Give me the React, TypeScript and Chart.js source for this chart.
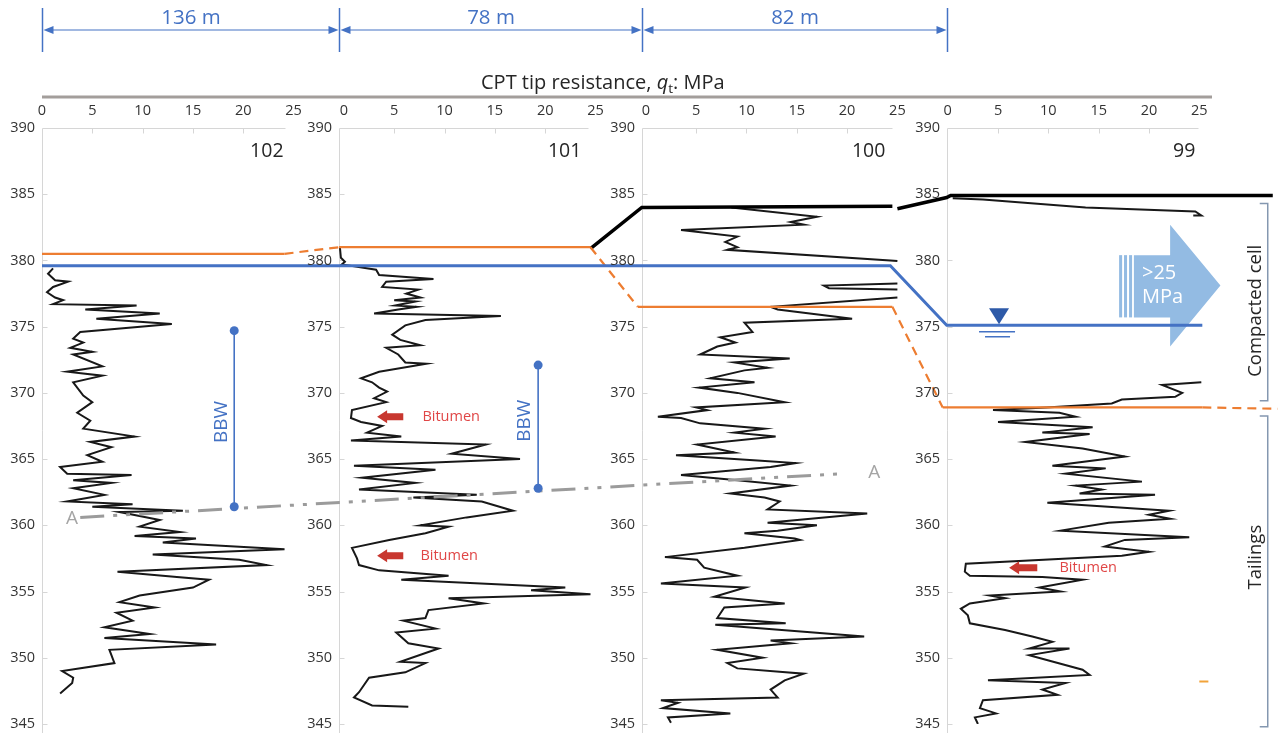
import { useEffect, useRef } from "react";
import { Chart, registerables } from "chart.js";

Chart.register(...registerables);

type Pt = [number, number]; // [q_t in MPa, elevation in m]

// ---- layout of the four CPT panels on one shared q_t axis ----
const PANEL_IDS = ["102", "101", "100", "99"];
const PANEL_OFFSET = [0, 30, 60, 90];
const FRAME_LEFT = [0, 29.5, 59.6, 89.9];
const FRAME_RIGHT = [24.1, 54.3, 84.5, 114.9];
const ID_LABEL_X = [24.0, 53.6, 83.8, 114.6];
const X_MAX = 122.77;
const QT_TICKS = [0, 5, 10, 15, 20, 25];
const ELEV_TICKS = [345, 350, 355, 360, 365, 370, 375, 380, 385, 390];
const SPACING_LABELS = ["136 m", "78 m", "82 m"];

// ---- CPT tip resistance profiles ----
const CPT_102: Pt[] = [
  [1.1, 379.4], [0.6, 379.0], [1.3, 378.5], [2.6, 378.4], [1.1, 378.0], [0.5, 377.6], [1.3, 377.2], [2.1, 377.0],
  [1.1, 376.7], [9.4, 376.6], [4.3, 376.3], [11.7, 376.0], [5.4, 375.6], [12.9, 375.2], [3.8, 374.6], [3.1, 374.1],
  [4.1, 373.8], [2.8, 373.4], [5.0, 373.1], [3.1, 372.9], [6.0, 372.0], [2.5, 371.6], [6.0, 371.3], [3.1, 370.8],
  [4.1, 369.8], [5.0, 369.3], [3.5, 368.5], [4.8, 367.9], [4.1, 367.3], [9.2, 366.7], [4.8, 366.3], [6.9, 365.9],
  [4.5, 365.3], [6.0, 364.8], [1.8, 364.4], [2.5, 363.9], [8.9, 363.8], [3.1, 363.4], [6.9, 363.2], [3.1, 362.8],
  [6.2, 362.3], [2.5, 361.8], [9.0, 361.6], [5.0, 361.4], [14.0, 361.1], [7.7, 361.0], [11.7, 360.4], [9.7, 359.9],
  [13.7, 359.5], [9.2, 359.2], [15.3, 359.0], [12.0, 358.7], [24.1, 358.2], [11.0, 357.8], [19.6, 357.4], [22.3, 357.0],
  [7.5, 356.5], [13.4, 356.1], [16.6, 355.9], [15.0, 355.3], [9.7, 354.7], [7.7, 354.2], [11.2, 353.8], [7.4, 353.4],
  [9.0, 352.8], [6.2, 352.3], [10.7, 351.8], [6.2, 351.5], [17.3, 351.0], [6.7, 350.6], [7.2, 349.6], [2.0, 349.0],
  [3.1, 348.5], [3.0, 348.1], [1.8, 347.3],
];

const CPT_101: Pt[] = [
  [-0.4, 381.0], [-0.3, 380.2], [0.1, 379.9], [-0.2, 379.7], [3.2, 379.3], [3.5, 378.9], [8.9, 378.6], [4.2, 378.4],
  [3.8, 378.0], [7.4, 377.8], [6.2, 377.5], [7.6, 377.2], [5.0, 377.0], [7.1, 376.9], [5.1, 376.6], [7.2, 376.5],
  [5.4, 376.3], [3.0, 376.0], [15.6, 375.8], [8.1, 375.5], [6.1, 375.1], [4.8, 374.4], [5.6, 374.0], [7.6, 373.6],
  [4.2, 373.4], [5.4, 372.9], [6.1, 372.3], [8.2, 372.2], [3.5, 371.6], [1.7, 371.1], [2.8, 370.8], [3.5, 370.4],
  [4.3, 370.1], [3.0, 369.6], [4.2, 369.3], [0.8, 368.7], [0.7, 368.1], [1.7, 367.8], [3.8, 367.5], [2.3, 367.0],
  [5.7, 366.7], [0.7, 366.4], [14.1, 366.1], [10.7, 365.4], [17.5, 365.0], [1.0, 364.5], [9.1, 364.2], [1.8, 363.6],
  [7.1, 363.2], [1.5, 362.7], [13.2, 362.3], [6.9, 362.1], [13.7, 361.8], [16.8, 361.1], [12.2, 360.6], [7.6, 360.0],
  [10.4, 359.9], [8.1, 359.4], [4.5, 358.9], [0.8, 358.3], [1.3, 357.5], [1.5, 357.0], [3.5, 356.6], [10.4, 356.2],
  [5.7, 355.9], [22.0, 355.3], [18.6, 355.1], [24.5, 354.8], [10.4, 354.5], [13.9, 354.1], [8.4, 353.6], [8.1, 353.0],
  [5.9, 352.8], [9.1, 352.2], [5.2, 351.9], [6.4, 351.1], [9.4, 350.7], [5.6, 349.7], [8.1, 349.6], [6.1, 348.9],
  [2.5, 348.5], [1.5, 347.4], [1.0, 347.0], [2.8, 346.4], [6.4, 346.3],
];

// profile 100 leaves the 0-25 MPa window twice, so it is kept in three pieces
const CPT_100_TOP: Pt[] = [
  [8.5, 384.0], [17.0, 383.3], [14.4, 382.9], [15.7, 382.7], [3.5, 382.3], [9.1, 381.8], [7.9, 381.4], [9.1, 381.0],
  [8.1, 380.8], [24.3, 380.0], [25.0, 379.95],
];
const CPT_100_MID: Pt[] = [[25.0, 378.25], [17.7, 378.1], [18.2, 377.9], [25.0, 377.8]];
const CPT_100_LOW: Pt[] = [
  [25.0, 377.2], [12.4, 376.5], [13.1, 376.3], [20.5, 375.6], [9.8, 375.3], [10.6, 374.6], [7.4, 374.2], [8.9, 373.8],
  [7.1, 373.5], [5.4, 372.9], [14.3, 372.6], [8.8, 372.3], [12.1, 371.9], [9.8, 371.7], [6.4, 371.1], [10.8, 370.8],
  [5.3, 370.4], [9.1, 370.0], [13.8, 369.3], [5.0, 368.9], [6.1, 368.7], [1.2, 368.2], [3.5, 368.1], [5.4, 367.7],
  [11.8, 367.3], [8.8, 367.0], [12.9, 366.7], [5.1, 366.1], [8.8, 365.5], [3.0, 365.3], [11.1, 364.9], [14.9, 364.7],
  [12.4, 364.4], [3.5, 363.8], [9.1, 363.4], [14.4, 363.0], [8.4, 362.4], [11.8, 362.1], [13.3, 361.8], [12.1, 361.2],
  [22.0, 360.9], [12.1, 360.2], [17.0, 360.0], [13.1, 359.6], [9.8, 359.4], [14.8, 359.0], [15.3, 358.9], [9.8, 358.3],
  [1.9, 357.6], [5.1, 357.4], [5.8, 356.8], [9.1, 356.2], [1.5, 355.6], [9.9, 355.3], [6.8, 354.6], [13.8, 354.1],
  [7.8, 353.8], [7.1, 353.0], [13.9, 352.6], [6.9, 352.5], [21.7, 351.6], [12.4, 351.3], [14.4, 351.1], [7.1, 350.6],
  [11.6, 350.0], [8.1, 349.6], [9.1, 349.2], [15.7, 348.8], [13.8, 348.3], [12.4, 347.6], [13.1, 347.0], [1.5, 346.8],
  [3.2, 346.6], [1.7, 346.2], [8.4, 345.8], [2.2, 345.5], [2.5, 345.1],
];

const CPT_99_TOP: Pt[] = [[0.5, 384.7], [3.5, 384.6], [13.7, 384.0], [24.6, 383.7], [25.2, 383.4], [24.4, 383.4]];
const CPT_99_LOW: Pt[] = [
  [25.2, 370.8], [21.3, 370.6], [23.3, 370.0], [22.6, 369.7], [17.3, 369.5], [16.3, 369.2], [9.8, 368.9], [4.5, 368.7],
  [11.1, 368.5], [12.7, 368.2], [5.0, 367.8], [14.4, 367.4], [9.4, 367.0], [14.1, 366.9], [7.7, 366.3], [13.4, 365.8],
  [17.6, 365.2], [10.4, 364.5], [15.7, 364.3], [11.7, 363.9], [19.3, 363.3], [12.7, 363.0], [15.3, 362.7], [13.1, 362.4],
  [20.6, 362.3], [9.9, 361.7], [22.0, 361.1], [20.0, 360.8], [22.1, 360.5], [16.0, 360.2], [11.2, 359.6], [24.0, 359.1],
  [17.6, 358.9], [15.6, 358.4], [20.0, 358.0], [17.3, 357.7], [1.8, 357.1], [1.7, 356.5], [2.2, 356.2], [9.4, 356.1],
  [13.4, 355.9], [9.1, 355.3], [11.2, 355.0], [4.2, 354.7], [5.7, 354.5], [2.2, 354.1], [1.3, 353.7], [2.0, 353.2],
  [2.2, 352.6], [5.7, 352.1], [8.4, 351.6], [10.4, 351.2], [8.1, 350.7], [12.1, 350.7], [8.1, 350.2], [13.4, 349.1],
  [14.1, 348.7], [4.0, 348.3], [11.7, 348.1], [9.4, 347.6], [10.9, 347.2], [3.5, 346.8], [3.2, 346.2], [4.8, 345.8],
  [2.7, 345.5], [3.0, 345.0],
];

const TRACES: { panel: number; pts: Pt[] }[] = [
  { panel: 0, pts: CPT_102 },
  { panel: 1, pts: CPT_101 },
  { panel: 2, pts: CPT_100_TOP },
  { panel: 2, pts: CPT_100_MID },
  { panel: 2, pts: CPT_100_LOW },
  { panel: 3, pts: CPT_99_TOP },
  { panel: 3, pts: CPT_99_LOW },
];

// ---- interpreted horizons, on the shared axis ----
const WATER_TABLE: Pt[] = [[0, 379.6], [84.3, 379.6], [89.9, 375.1], [115.3, 375.1]];
const CELL_BASE_SOLID: Pt[][] = [
  [[0, 380.5], [24.1, 380.5]],
  [[29.5, 381.0], [54.5, 381.0]],
  [[59.2, 376.5], [84.5, 376.5]],
  [[89.5, 368.9], [115.3, 368.9]],
];
const CELL_BASE_DASHED: Pt[][] = [
  [[24.1, 380.5], [29.5, 381.0]],
  [[54.5, 381.0], [59.2, 376.5]],
  [[84.5, 376.5], [89.5, 368.9]],
  [[115.3, 368.9], [122.8, 368.8]],
];
const SURFACE: Pt[][] = [
  [[54.5, 380.9], [59.6, 384.0], [84.5, 384.1]],
  [[85.0, 383.9], [89.9, 384.75], [90.3, 384.9], [122.3, 384.9]],
];
const LINE_A: Pt[] = [[3.8, 360.6], [79.5, 363.9]];
const BBW: Pt[][] = [
  [[19.1, 374.7], [19.1, 361.4]],
  [[49.3, 372.1], [49.3, 362.8]],
];
const BBW_LABEL: Pt[] = [[17.8, 367.8], [48.0, 367.9]];
const STRAY_MARK: Pt[] = [[115.0, 348.2], [115.9, 348.2]];

// ---- annotations ----
const BITUMEN = [
  { tip: 33.3, tail: 35.9, elev: 368.2, text: 37.8 },
  { tip: 33.3, tail: 35.9, elev: 357.7, text: 37.6 },
  { tip: 96.1, tail: 98.9, elev: 356.8, text: 101.1 },
];
const A_LABELS: Pt[] = [[2.97, 360.5], [82.7, 364.0]];
const WATER_SYMBOL: Pt = [95.1, 375.1];
const BIG_ARROW = {
  body: 108.5, neck: 112.1, tip: 117.1,
  top: 380.4, bottom: 375.7, headTop: 382.7, headBottom: 373.5, mid: 378.1,
  stripes: [[107.03, 107.33], [107.52, 107.82], [108.02, 108.32]],
  labelX: 109.3, label1: 379.0, label2: 377.2,
};
const ZONES = [
  { text: "Compacted cell", top: 384.3, bottom: 369.4, mid: 376.2 },
  { text: "Tailings", top: 368.25, bottom: 344.8, mid: 357.6 },
];
const ZONE_X = 121.8;
const ZONE_LABEL_X = 120.6;

// ---- styles ----
const FONT = '"Open Sans", "DejaVu Sans", sans-serif';
const BLUE = "#4472c4";
const ORANGE = "#ed7d31";
const TEXT = "#262626";
const TICK_TEXT = "#333333";
const FRAME = "#d6d6d6";
const TICK_SIZE = 14.5;

const toXY = (pts: Pt[], dx = 0) => pts.map(([x, y]) => ({ x: x + dx, y }));

function lineSet(pts: Pt[], color: string, width: number, extra: Record<string, unknown> = {}) {
  return {
    data: toXY(pts),
    borderColor: color,
    backgroundColor: color,
    borderWidth: width,
    pointRadius: 0,
    showLine: true,
    tension: 0,
    ...extra,
  };
}

const sectionDecor = {
  id: "sectionDecor",
  beforeDatasetsDraw(chart: any) {
    const { ctx, chartArea } = chart;
    const X = (v: number) => chart.scales.x.getPixelForValue(v);
    const Y = (v: number) => chart.scales.y.getPixelForValue(v);
    ctx.save();

    // panel frames with inward tick marks
    ctx.strokeStyle = FRAME;
    ctx.lineWidth = 1;
    const top = Math.round(chartArea.top) + 0.5;
    FRAME_LEFT.forEach((l, k) => {
      const x0 = Math.round(X(l)) + 0.5;
      const x1 = Math.round(X(FRAME_RIGHT[k])) + 0.5;
      ctx.beginPath();
      ctx.moveTo(x0, chart.height);
      ctx.lineTo(x0, top);
      ctx.lineTo(x1, top);
      ctx.stroke();
      QT_TICKS.slice(1, -1).forEach((t) => {
        const tx = Math.round(X(PANEL_OFFSET[k] + t)) + 0.5;
        ctx.beginPath();
        ctx.moveTo(tx, top);
        ctx.lineTo(tx, top + 5);
        ctx.stroke();
      });
      ELEV_TICKS.slice(0, -1).forEach((e) => {
        const ty = Math.round(Y(e)) + 0.5;
        ctx.beginPath();
        ctx.moveTo(x0, ty);
        ctx.lineTo(x0 + 5, ty);
        ctx.stroke();
      });
    });

    // ">25 MPa" block arrow
    const a = BIG_ARROW;
    ctx.fillStyle = "#93bbe3";
    ctx.beginPath();
    ctx.moveTo(X(a.body), Y(a.top));
    ctx.lineTo(X(a.neck), Y(a.top));
    ctx.lineTo(X(a.neck), Y(a.headTop));
    ctx.lineTo(X(a.tip), Y(a.mid));
    ctx.lineTo(X(a.neck), Y(a.headBottom));
    ctx.lineTo(X(a.neck), Y(a.bottom));
    ctx.lineTo(X(a.body), Y(a.bottom));
    ctx.closePath();
    ctx.fill();
    a.stripes.forEach(([s0, s1]) => {
      ctx.fillRect(X(s0), Y(a.top), X(s1) - X(s0), Y(a.bottom) - Y(a.top));
    });
    ctx.restore();
  },
  afterDatasetsDraw(chart: any) {
    const { ctx } = chart;
    const X = (v: number) => chart.scales.x.getPixelForValue(v);
    const Y = (v: number) => chart.scales.y.getPixelForValue(v);
    ctx.save();

    // elevation labels for the inner panels
    ctx.font = `${TICK_SIZE}px ${FONT}`;
    ctx.fillStyle = TICK_TEXT;
    ctx.textAlign = "right";
    ctx.textBaseline = "middle";
    FRAME_LEFT.slice(1).forEach((l) => {
      const x0 = Math.round(X(l)) - 7;
      ELEV_TICKS.forEach((e) => ctx.fillText(String(e), x0, Y(e)));
    });

    // CPT numbers
    ctx.font = `19.5px ${FONT}`;
    ctx.fillStyle = TEXT;
    PANEL_IDS.forEach((id, k) => ctx.fillText(id, X(ID_LABEL_X[k]), Y(388.2)));

    // spacing between soundings
    const lefts = FRAME_LEFT.map((l) => Math.round(X(l)) + 0.5);
    ctx.strokeStyle = BLUE;
    ctx.fillStyle = BLUE;
    ctx.lineWidth = 1.5;
    lefts.forEach((lx) => {
      ctx.beginPath();
      ctx.moveTo(lx, 8);
      ctx.lineTo(lx, 52);
      ctx.stroke();
    });
    ctx.font = `20.5px ${FONT}`;
    ctx.textAlign = "center";
    SPACING_LABELS.forEach((label, i) => {
      const a0 = lefts[i] + 1;
      const a1 = lefts[i + 1] - 1;
      const ay = 30;
      ctx.lineWidth = 1.2;
      ctx.beginPath();
      ctx.moveTo(a0 + 8, ay);
      ctx.lineTo(a1 - 8, ay);
      ctx.stroke();
      ctx.beginPath();
      ctx.moveTo(a0, ay);
      ctx.lineTo(a0 + 10, ay - 4);
      ctx.lineTo(a0 + 10, ay + 4);
      ctx.closePath();
      ctx.fill();
      ctx.beginPath();
      ctx.moveTo(a1, ay);
      ctx.lineTo(a1 - 10, ay - 4);
      ctx.lineTo(a1 - 10, ay + 4);
      ctx.closePath();
      ctx.fill();
      ctx.fillText(label, (lefts[i] + lefts[i + 1]) / 2, 18);
    });

    // axis title with rule
    ctx.textAlign = "left";
    ctx.textBaseline = "alphabetic";
    ctx.fillStyle = TEXT;
    let tx = 481;
    const ty = 89;
    const parts: [string, string, number][] = [
      ["CPT tip resistance, ", `20px ${FONT}`, 0],
      ["q", `italic 20px ${FONT}`, 0],
      ["t", `13.5px ${FONT}`, 4],
      [": MPa", `20px ${FONT}`, 0],
    ];
    parts.forEach(([s, f, dy]) => {
      ctx.font = f;
      ctx.fillText(s, tx, ty + dy);
      tx += ctx.measureText(s).width;
    });
    ctx.strokeStyle = "#a39e9b";
    ctx.lineWidth = 3;
    ctx.beginPath();
    ctx.moveTo(X(0), 97);
    ctx.lineTo(1212, 97);
    ctx.stroke();

    // BBW labels
    ctx.font = `19px ${FONT}`;
    ctx.fillStyle = BLUE;
    ctx.textAlign = "center";
    ctx.textBaseline = "middle";
    BBW_LABEL.forEach(([bx, by]) => {
      ctx.save();
      ctx.translate(X(bx), Y(by));
      ctx.rotate(-Math.PI / 2);
      ctx.fillText("BBW", 0, 0);
      ctx.restore();
    });

    // bitumen markers
    BITUMEN.forEach((b) => {
      const y = Y(b.elev);
      const xt = X(b.tip);
      const xe = X(b.tail);
      ctx.fillStyle = "#c8372f";
      ctx.beginPath();
      ctx.moveTo(xt, y);
      ctx.lineTo(xt + 10, y - 6.5);
      ctx.lineTo(xt + 10, y - 3.5);
      ctx.lineTo(xe, y - 3.5);
      ctx.lineTo(xe, y + 3.5);
      ctx.lineTo(xt + 10, y + 3.5);
      ctx.lineTo(xt + 10, y + 6.5);
      ctx.closePath();
      ctx.fill();
      ctx.font = `14.5px ${FONT}`;
      ctx.fillStyle = "#e04646";
      ctx.textAlign = "left";
      ctx.fillText("Bitumen", X(b.text), y);
    });

    // section line A–A labels
    ctx.font = `19px ${FONT}`;
    ctx.fillStyle = "#a5a5a5";
    ctx.textAlign = "center";
    A_LABELS.forEach(([ax, ay]) => ctx.fillText("A", X(ax), Y(ay)));

    // water table symbol
    const wx = X(WATER_SYMBOL[0]);
    const wy = Y(WATER_SYMBOL[1]);
    ctx.fillStyle = "#2e5aa8";
    ctx.beginPath();
    ctx.moveTo(wx - 10, wy - 17);
    ctx.lineTo(wx + 10, wy - 17);
    ctx.lineTo(wx, wy - 1);
    ctx.closePath();
    ctx.fill();
    ctx.strokeStyle = BLUE;
    ctx.lineWidth = 1.5;
    ctx.beginPath();
    ctx.moveTo(wx - 20, wy + 6.5);
    ctx.lineTo(wx + 16, wy + 6.5);
    ctx.moveTo(wx - 14, wy + 11.5);
    ctx.lineTo(wx + 11, wy + 11.5);
    ctx.stroke();

    // >25 MPa text
    ctx.font = `20px ${FONT}`;
    ctx.fillStyle = "#ffffff";
    ctx.textAlign = "left";
    ctx.fillText(">25", X(BIG_ARROW.labelX), Y(BIG_ARROW.label1));
    ctx.fillText("MPa", X(BIG_ARROW.labelX), Y(BIG_ARROW.label2));

    // zone brackets
    ctx.strokeStyle = "#8497b0";
    ctx.lineWidth = 1.5;
    const zx = X(ZONE_X);
    ZONES.forEach((z) => {
      const y0 = Y(z.top);
      const y1 = Y(z.bottom);
      ctx.beginPath();
      ctx.moveTo(zx - 8, y0);
      ctx.lineTo(zx, y0);
      ctx.lineTo(zx, y1);
      ctx.lineTo(zx - 8, y1);
      ctx.stroke();
      ctx.save();
      ctx.translate(X(ZONE_LABEL_X), Y(z.mid));
      ctx.rotate(-Math.PI / 2);
      ctx.font = `18.5px ${FONT}`;
      ctx.fillStyle = TEXT;
      ctx.textAlign = "center";
      ctx.textBaseline = "middle";
      ctx.fillText(z.text, 0, 0);
      ctx.restore();
    });

    ctx.restore();
  },
};

export default function App() {
  const canvasRef = useRef<HTMLCanvasElement>(null);

  useEffect(() => {
    document.body.style.margin = "0";
    document.body.style.overflow = "hidden";
    const canvas = canvasRef.current;
    if (!canvas) return;

    const datasets: any[] = [
      ...BBW.map((seg) =>
        lineSet(seg, BLUE, 1.6, { pointRadius: 4.5, pointBorderWidth: 0, pointBackgroundColor: BLUE })
      ),
      lineSet(LINE_A, "#9b9b9b", 3, { borderDash: [24, 9, 4, 9, 4, 9] }),
      lineSet(WATER_TABLE, BLUE, 3),
      ...CELL_BASE_SOLID.map((seg) => lineSet(seg, ORANGE, 2.2)),
      ...CELL_BASE_DASHED.map((seg) => lineSet(seg, ORANGE, 2.2, { borderDash: [9, 6] })),
      ...SURFACE.map((seg) => lineSet(seg, "#000000", 3.5)),
      lineSet(STRAY_MARK, "#f2a33a", 2),
      ...TRACES.map((t) => ({
        ...lineSet([], "#181818", 2),
        data: toXY(t.pts, PANEL_OFFSET[t.panel]),
      })),
    ];

    const tickFont = { family: FONT, size: TICK_SIZE };

    const chart = new Chart(canvas, {
      type: "scatter",
      data: { datasets },
      plugins: [sectionDecor],
      options: {
        animation: false,
        responsive: false,
        events: [],
        layout: { padding: { top: 0, left: 0, right: 0, bottom: 9 } },
        plugins: { legend: { display: false }, tooltip: { enabled: false } },
        scales: {
          x: {
            type: "linear",
            position: "top",
            min: 0,
            max: X_MAX,
            grid: { display: false, drawTicks: false },
            border: { display: false },
            afterBuildTicks: (axis: any) => {
              axis.ticks = PANEL_OFFSET.flatMap((o) => QT_TICKS.map((t) => ({ value: o + t })));
            },
            afterFit: (axis: any) => {
              axis.height = 128;
              axis.paddingLeft = 0;
              axis.paddingRight = 0;
            },
            ticks: {
              autoSkip: false,
              maxRotation: 0,
              padding: 8,
              color: TICK_TEXT,
              font: tickFont,
              callback: (value: any, index: number) =>
                String(Math.round(Number(value) - PANEL_OFFSET[Math.floor(index / QT_TICKS.length)])),
            },
          },
          y: {
            type: "linear",
            position: "left",
            min: 345,
            max: 390,
            grid: { display: false, drawTicks: false },
            border: { display: false },
            afterBuildTicks: (axis: any) => {
              axis.ticks = ELEV_TICKS.map((v) => ({ value: v }));
            },
            afterFit: (axis: any) => {
              axis.width = 42;
              axis.paddingTop = 0;
              axis.paddingBottom = 0;
            },
            ticks: { padding: 7, color: TICK_TEXT, font: tickFont },
          },
        },
      } as any,
    });

    return () => chart.destroy();
  }, []);

  return (
    <canvas
      ref={canvasRef}
      width={1282}
      height={733}
      style={{ display: "block", width: 1282, height: 733 }}
    />
  );
}
